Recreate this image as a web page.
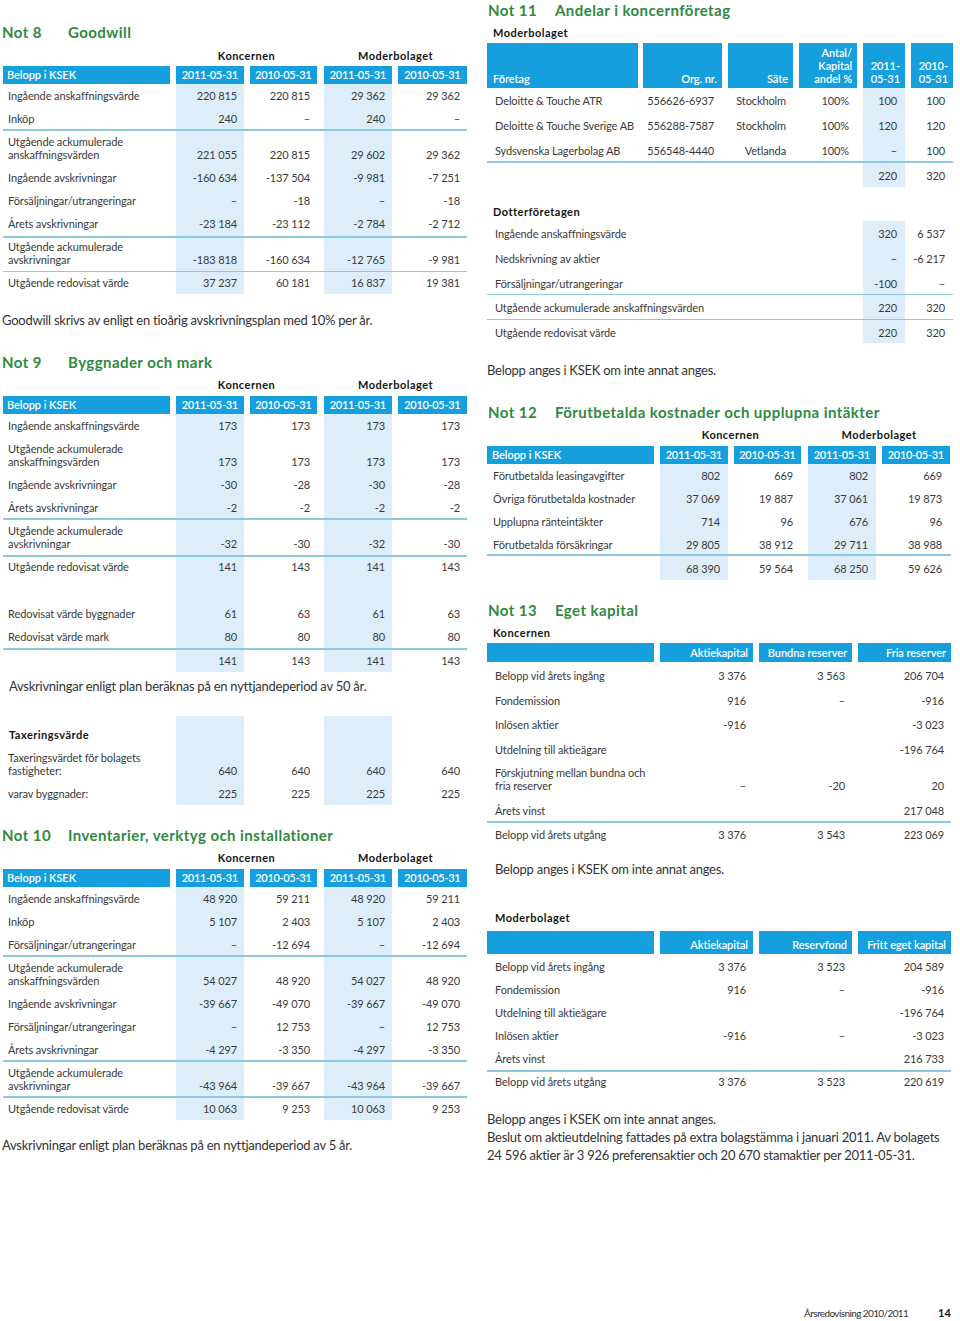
<!DOCTYPE html>
<html><head><meta charset="utf-8">
<script src="https://cdn.jsdelivr.net/npm/chart.js@4.4.1/dist/chart.umd.min.js"></script>
<style>
html,body{margin:0;padding:0;background:#fff;}
#page{position:relative;width:960px;height:1321px;overflow:hidden;font-family:Lato,"Open Sans",sans-serif;color:#3c3c3c;}
.t{position:absolute;white-space:nowrap;line-height:16px;height:16px;}
.b{position:absolute;}
</style></head><body><div id="page"></div>
<script>
// ---------------- DATA ----------------
const groupHeaders = ["Koncernen", "Moderbolaget"];
const dateHeaders = ["2011-05-31", "2010-05-31", "2011-05-31", "2010-05-31"];
const amountHeader = "Belopp i KSEK";

// Not 8 Goodwill
const not8Labels = ["Ingående anskaffningsvärde", "Inköp", "Utgående ackumulerade\nanskaffningsvärden",
  "Ingående avskrivningar", "Försäljningar/utrangeringar", "Årets avskrivningar",
  "Utgående ackumulerade\navskrivningar", "Utgående redovisat värde"];
const not8Values = [
  [220815, 220815, 29362, 29362],
  [240, null, 240, null],
  [221055, 220815, 29602, 29362],
  [-160634, -137504, -9981, -7251],
  [null, -18, null, -18],
  [-23184, -23112, -2784, -2712],
  [-183818, -160634, -12765, -9981],
  [37237, 60181, 16837, 19381]];

// Not 9 Byggnader och mark
const not9Labels = ["Ingående anskaffningsvärde", "Utgående ackumulerade\nanskaffningsvärden",
  "Ingående avskrivningar", "Årets avskrivningar", "Utgående ackumulerade\navskrivningar", "Utgående redovisat värde"];
const not9Values = [
  [173, 173, 173, 173],
  [173, 173, 173, 173],
  [-30, -28, -30, -28],
  [-2, -2, -2, -2],
  [-32, -30, -32, -30],
  [141, 143, 141, 143]];
const not9SplitLabels = ["Redovisat värde byggnader", "Redovisat värde mark", ""];
const not9SplitValues = [
  [61, 63, 61, 63],
  [80, 80, 80, 80],
  [141, 143, 141, 143]];
const taxLabels = ["Taxeringsvärdet för bolagets\nfastigheter:", "varav byggnader:"];
const taxValues = [
  [640, 640, 640, 640],
  [225, 225, 225, 225]];

// Not 10 Inventarier
const not10Labels = ["Ingående anskaffningsvärde", "Inköp", "Försäljningar/utrangeringar",
  "Utgående ackumulerade\nanskaffningsvärden", "Ingående avskrivningar", "Försäljningar/utrangeringar",
  "Årets avskrivningar", "Utgående ackumulerade\navskrivningar", "Utgående redovisat värde"];
const not10Values = [
  [48920, 59211, 48920, 59211],
  [5107, 2403, 5107, 2403],
  [null, -12694, null, -12694],
  [54027, 48920, 54027, 48920],
  [-39667, -49070, -39667, -49070],
  [null, 12753, null, 12753],
  [-4297, -3350, -4297, -3350],
  [-43964, -39667, -43964, -39667],
  [10063, 9253, 10063, 9253]];

// Not 11 Andelar i koncernföretag
const not11Headers = [["Företag"], ["Org. nr."], ["Säte"], ["Antal/", "Kapital", "andel %"], ["2011-", "05-31"], ["2010-", "05-31"]];
const not11Companies = ["Deloitte & Touche ATR", "Deloitte & Touche Sverige AB", "Sydsvenska Lagerbolag AB"];
const not11OrgNr = ["556626-6937", "556288-7587", "556548-4440"];
const not11Seat = ["Stockholm", "Stockholm", "Vetlanda"];
const not11Share = ["100%", "100%", "100%"];
const not11Value2011 = [100, 120, null];
const not11Value2010 = [100, 120, 100];
const not11Totals = [220, 320];
const dotterLabels = ["Ingående anskaffningsvärde", "Nedskrivning av aktier", "Försäljningar/utrangeringar",
  "Utgående ackumulerade anskaffningsvärden", "Utgående redovisat värde"];
const dotter2011 = [320, null, -100, 220, 220];
const dotter2010 = [6537, -6217, null, 320, 320];

// Not 12
const not12Labels = ["Förutbetalda leasingavgifter", "Övriga förutbetalda kostnader", "Upplupna ränteintäkter", "Förutbetalda försäkringar", ""];
const not12Values = [
  [802, 669, 802, 669],
  [37069, 19887, 37061, 19873],
  [714, 96, 676, 96],
  [29805, 38912, 29711, 38988],
  [68390, 59564, 68250, 59626]];

// Not 13
const not13KonHeaders = ["Aktiekapital", "Bundna reserver", "Fria reserver"];
const not13KonLabels = ["Belopp vid årets ingång", "Fondemission", "Inlösen aktier", "Utdelning till aktieägare",
  "Förskjutning mellan bundna och\nfria reserver", "Årets vinst", "Belopp vid årets utgång"];
const not13KonValues = [
  [3376, 3563, 206704],
  [916, null, -916],
  [-916, "", -3023],
  ["", "", -196764],
  [null, -20, 20],
  ["", "", 217048],
  [3376, 3543, 223069]];
const not13ModHeaders = ["Aktiekapital", "Reservfond", "Fritt eget kapital"];
const not13ModLabels = ["Belopp vid årets ingång", "Fondemission", "Utdelning till aktieägare", "Inlösen aktier",
  "Årets vinst", "Belopp vid årets utgång"];
const not13ModValues = [
  [3376, 3523, 204589],
  [916, null, -916],
  ["", "", -196764],
  [-916, null, -3023],
  ["", "", 216733],
  [3376, 3523, 220619]];

// ---------------- STYLE / LAYOUT ----------------
const C = { green: "#2e8a3e", blue: "#15a0dd", shade: "#ddeefa", line: "#8cc8e2", text: "#3a3a3a", dark: "#151515" };
const FONT = 'Lato,"Open Sans",sans-serif';
const ctx = document.createElement("canvas").getContext("2d");
// fixed size, letter-spacing tuned so a reference string matches its measured width in the original
function fit(str, target, size, weight, color) {
  ctx.font = weight + " " + size + "px " + FONT;
  const w = ctx.measureText(str).width;
  let ls = (target - w) / str.length;
  ls = Math.max(-0.6, Math.min(0.8, ls));
  return { size, w: weight, c: color, ls };
}
const K = {
  body: fit("Ingående anskaffningsvärde", 131, 11, 400, C.text),
  note: fit("Goodwill skrivs av enligt en tioårig avskrivningsplan med 10% per år.", 371, 13, 400, "#333"),
  title: fit("Förutbetalda kostnader och upplupna intäkter", 325, 15, 700, C.green),
  sub: fit("Moderbolaget", 75, 11, 700, C.dark),
  head: fit("Belopp i KSEK", 69, 11, 600, "#fff"),
  foot: fit("Årsredovisning 2010/2011", 101, 10, 400, "#333"),
  footb: { size: 11, w: 700, c: C.dark, ls: 0 }
};
ctx.font = K.head.w + " " + K.head.size + "px " + FONT;
const dateLS = (56 - ctx.measureText("2011-05-31").width) / 10;

const page = document.getElementById("page");
function box(x1, y1, x2, y2, color) {
  const d = document.createElement("div"); d.className = "b";
  d.style.cssText = `left:${x1}px;top:${y1}px;width:${x2 - x1}px;height:${y2 - y1}px;background:${color}`;
  page.appendChild(d);
}
function hline(x1, x2, y) { box(x1, y - 0.75, x2, y + 0.75, C.line); }
function text(x, y, s, kind, align, ls) {
  const k = K[kind], d = document.createElement("div"); d.className = "t";
  d.textContent = s;
  d.style.fontSize = k.size + "px"; d.style.fontWeight = k.w; d.style.color = k.c;
  d.style.top = (y - 8) + "px";
  d.style.letterSpacing = (ls !== undefined ? ls : k.ls) + "px";
  if (align === "right") d.style.right = (960 - x) + "px";
  else if (align === "center") { d.style.left = (x - 150) + "px"; d.style.width = "300px"; d.style.textAlign = "center"; }
  else d.style.left = x + "px";
  page.appendChild(d);
}
function fmt(v) {
  if (v === null) return "–";
  if (v === "" || v === undefined) return "";
  if (typeof v === "string") return v;
  const s = Math.abs(v).toString().replace(/\B(?=(\d{3})+(?!\d))/g, " ");
  return (v < 0 ? "-" : "") + s;
}
function labelLines(x, y, label, kind) {
  const parts = label.split("\n");
  parts.forEach((p, j) => text(x, y - (parts.length - 1 - j) * 13, p, kind || "body", "left"));
}

// 4-column layouts (Koncernen/Moderbolaget x 2 dates)
const LL = { labelX: 8, bar: [3, 170], cols: [[176, 244], [250, 317], [324, 392], [398, 467]], line: [3, 467], pad: 7 };
const LR = { labelX: 493, bar: [487, 654], cols: [[660, 728], [734, 801], [808, 876], [882, 950]], line: [487, 951], pad: 8 };

function shade4(L, y1, y2) { [0, 2].forEach(c => box(L.cols[c][0], y1, L.cols[c][1], y2, C.shade)); }
function header4(L, top, groupY) {
  text((L.cols[0][0] + L.cols[1][1]) / 2, groupY, groupHeaders[0], "sub", "center");
  text((L.cols[2][0] + L.cols[3][1]) / 2, groupY, groupHeaders[1], "sub", "center");
  box(L.bar[0], top, L.bar[1], top + 18, C.blue);
  text(L.labelX - 1, top + 9, amountHeader, "head", "left");
  L.cols.forEach((c, i) => {
    box(c[0], top, c[1], top + 18, C.blue);
    text((c[0] + c[1]) / 2 + dateLS / 2, top + 9, dateHeaders[i], "head", "center", dateLS);
  });
}
function rows4(L, ys, labels, values) {
  ys.forEach((y, i) => {
    if (labels[i]) labelLines(L.labelX, y, labels[i]);
    values[i].forEach((v, c) => text(L.cols[c][1] - L.pad, y, fmt(v), "body", "right"));
  });
}
function lines(L, ys) { ys.forEach(y => hline(L.line[0], L.line[1], y)); }
function title(x1, x2, y, a, b) { text(x1, y, a, "title", "left"); text(x2, y, b, "title", "left"); }

// ---------------- DRAW ----------------
// Not 8
title(2, 68, 32, "Not 8", "Goodwill");
shade4(LL, 84, 294);
header4(LL, 66, 56);
lines(LL, [130, 237, 271.5]);
rows4(LL, [96, 119, 155, 178, 201, 224, 260, 283], not8Labels, not8Values);
text(2, 320, "Goodwill skrivs av enligt en tioårig avskrivningsplan med 10% per år.", "note", "left");

// Not 9
title(2, 68, 362, "Not 9", "Byggnader och mark");
shade4(LL, 414, 672);
header4(LL, 396, 385);
lines(LL, [519, 556, 649]);
rows4(LL, [426, 462, 485, 508, 544, 567], not9Labels, not9Values);
rows4(LL, [614, 637, 661], not9SplitLabels, not9SplitValues);
text(9, 686, "Avskrivningar enligt plan beräknas på en nyttjandeperiod av 50 år.", "note", "left");
shade4(LL, 716, 805);
text(9, 735, "Taxeringsvärde", "sub", "left");
rows4(LL, [771, 794], taxLabels, taxValues);

// Not 10
title(2, 68, 835, "Not 10", "Inventarier, verktyg och installationer");
shade4(LL, 887, 1120);
header4(LL, 869, 858);
lines(LL, [956, 1061, 1097]);
rows4(LL, [899, 922, 945, 981, 1004, 1027, 1050, 1086, 1109], not10Labels, not10Values);
text(2, 1145, "Avskrivningar enligt plan beräknas på en nyttjandeperiod av 5 år.", "note", "left");

// Not 11
title(488, 555, 10, "Not 11", "Andelar i koncernföretag");
text(493, 33, "Moderbolaget", "sub", "left");
const L11 = { cols: [[487, 638], [643, 722], [728, 793], [799, 857], [863, 905], [911, 953]] };
box(863, 88, 905, 187, C.shade);
L11.cols.forEach((c, i) => {
  box(c[0], 43, c[1], 88, C.blue);
  const h = not11Headers[i];
  h.forEach((s, j) => {
    const y = 79 - (h.length - 1 - j) * 13;
    if (i === 0) text(c[0] + 6, y, s, "head", "left");
    else text(c[1] - 5, y, s, "head", "right");
  });
});
const not11Y = [101, 126, 151];
not11Companies.forEach((name, i) => {
  const y = not11Y[i];
  text(495, y, name, "body", "left");
  text(714, y, not11OrgNr[i], "body", "right");
  text(786, y, not11Seat[i], "body", "right");
  text(849, y, not11Share[i], "body", "right");
  text(897, y, fmt(not11Value2011[i]), "body", "right");
  text(945, y, fmt(not11Value2010[i]), "body", "right");
});
hline(487, 953, 162);
text(897, 176, fmt(not11Totals[0]), "body", "right");
text(945, 176, fmt(not11Totals[1]), "body", "right");

text(493, 212, "Dotterföretagen", "sub", "left");
box(863, 221, 905, 343, C.shade);
const dotterY = [234, 259, 284, 308, 333];
dotterLabels.forEach((lab, i) => {
  text(495, dotterY[i], lab, "body", "left");
  text(897, dotterY[i], fmt(dotter2011[i]), "body", "right");
  text(945, dotterY[i], fmt(dotter2010[i]), "body", "right");
});
hline(487, 953, 294.5);
hline(487, 953, 319.5);
text(487, 370, "Belopp anges i KSEK om inte annat anges.", "note", "left");

// Not 12
title(488, 555, 412, "Not 12", "Förutbetalda kostnader och upplupna intäkter");
shade4(LR, 464, 580);
header4(LR, 446, 435);
lines(LR, [555]);
rows4(LR, [476, 499, 522, 545, 569], not12Labels, not12Values);

// Not 13
title(488, 555, 610, "Not 13", "Eget kapital");
const L13 = { bar: [487, 654], cols: [[660, 753], [759, 852], [858, 951]], line: [487, 951] };
function eqTable(top, hh, heads, labels, values, ys, lineY) {
  box(L13.bar[0], top, L13.bar[1], top + hh, C.blue);
  L13.cols.forEach((c, i) => {
    box(c[0], top, c[1], top + hh, C.blue);
    text(c[1] - 5, top + hh / 2 + (hh > 20 ? 2 : 0), heads[i], "head", "right");
  });
  hline(L13.line[0], L13.line[1], lineY);
  ys.forEach((y, r) => {
    labelLines(495, y, labels[r]);
    values[r].forEach((v, c) => text(L13.cols[c][1] - 7, y, fmt(v), "body", "right"));
  });
}
text(493, 633, "Koncernen", "sub", "left");
eqTable(643, 19, not13KonHeaders, not13KonLabels, not13KonValues, [676, 701, 725, 750, 786, 811, 835], 822);
text(495, 869, "Belopp anges i KSEK om inte annat anges.", "note", "left");
text(495, 918, "Moderbolaget", "sub", "left");
eqTable(931, 23, not13ModHeaders, not13ModLabels, not13ModValues, [967, 990, 1013, 1036, 1059, 1082], 1071);
text(487, 1119, "Belopp anges i KSEK om inte annat anges.", "note", "left");
text(487, 1137, "Beslut om aktieutdelning fattades på extra bolagstämma i januari 2011. Av bolagets", "note", "left");
text(487, 1155, "24 596 aktier är 3 926 preferensaktier och 20 670 stamaktier per 2011-05-31.", "note", "left");

// Footer
text(804, 1313, "Årsredovisning 2010/2011", "foot", "left");
text(938, 1313, "14", "footb", "left");
</script>
</body></html>
